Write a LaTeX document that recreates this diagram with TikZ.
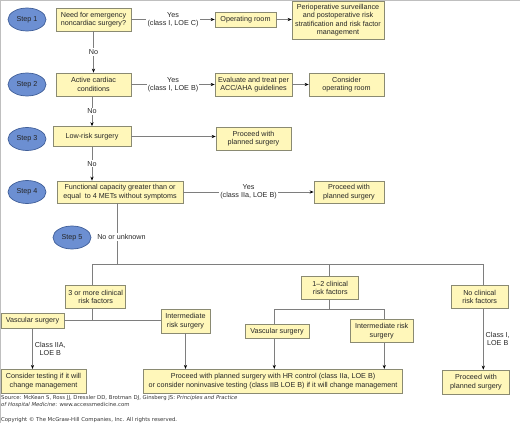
\documentclass[tikz,border=0pt]{standalone}
\usepackage{fontspec}
\setmainfont{Liberation Sans}
\newfontfamily\srcfont{DejaVu Sans}
\usetikzlibrary{shapes.geometric,arrows.meta}
\definecolor{boxfill}{HTML}{FFF7BA}
\definecolor{boxline}{HTML}{8A8A72}
\definecolor{stepfill}{HTML}{6C8FD2}
\definecolor{stepline}{HTML}{3F5E98}
\definecolor{linegray}{HTML}{7E7E7E}
\tikzset{>={Stealth[length=4pt,width=3.2pt,color=black]}}
\tikzset{
  box/.style={draw=boxline,fill=boxfill,line width=0.7pt,align=center,inner sep=1pt,text=black!85},
  stepnode/.style={ellipse,draw=stepline,fill=stepfill,line width=0.7pt,minimum width=38,minimum height=23,inner sep=0pt,text=black!85},
  lbl/.style={fill=white,align=center,inner sep=1.2pt,text=black!85},
  line/.style={draw=linegray,line width=0.8pt},
  src/.style={font=\srcfont\fontsize{5.35}{6.7}\selectfont,align=left,inner sep=0pt,text=black!80}
}

\begin{document}
\begin{tikzpicture}[x=1pt,y=-1pt,font=\fontsize{7.2}{8.4}\selectfont]
\useasboundingbox (0,0) rectangle (520,423);
\draw[draw=black!25,line width=0.6pt] (0.4,423) -- (0.4,0.4) -- (520,0.4);

% steps
\foreach \n/\x/\y in {1/27/19.5,2/27/84.5,3/27/139,4/27/192,5/72/237.5}
  \node[stepnode] (s\n) at (\x,\y) {Step \n};

% top part
\node[box,minimum width=75,minimum height=23] (q1) at (93.5,19.5) {Need for emergency\\noncardiac surgery?};
\node[box,minimum width=61,minimum height=15] (or1) at (245.5,19.5) {Operating room};
\node[box,minimum width=92,minimum height=38] (peri) at (338,20) {Perioperative surveillance\\and postoperative risk\\stratification and risk factor\\management};
\node[box,minimum width=75,minimum height=23] (q2) at (93.5,84.5) {Active cardiac\\conditions};
\node[box,minimum width=77,minimum height=23] (eval) at (253.5,84.5) {Evaluate and treat per\\ACC/AHA guidelines};
\node[box,minimum width=75,minimum height=23] (cons) at (346.5,84.5) {Consider\\operating room};
\node[box,minimum width=78,minimum height=20] (q3) at (92,136.5) {Low-risk surgery};
\node[box,minimum width=75,minimum height=23] (pro3) at (253.5,138.5) {Proceed with\\planned surgery};
\node[box,minimum width=126,minimum height=22] (q4) at (120,192) {Functional capacity greater than or\\equal\ \ to 4 METs without symptoms};
\node[box,minimum width=70,minimum height=22] (pro4) at (349,192) {Proceed with\\planned surgery};

\draw[line,->] (q1) -- node[lbl]{Yes\\(class I, LOE C)} (or1);
\draw[line,->] (or1) -- (or1 -| peri.west);
\draw[line,->] (q1) -- node[lbl]{No} (q2);
\draw[line,->] (q2) -- node[lbl]{Yes\\(class I, LOE B)} (eval);
\draw[line,->] (eval) -- (cons);
\draw[line,->] (q2.south -| q3.north) -- node[lbl]{No} (q3.north);
\draw[line,->] (q3.east) -- (q3.east -| pro3.west);
\draw[line,->] (q3.south) -- node[lbl]{No} (q3.south |- q4.north);
\draw[line,->] (q4) -- node[lbl]{Yes\\(class IIa, LOE B)} (pro4);

% risk factors
\node[box,minimum width=60,minimum height=23] (r3) at (95.7,297) {3 or more clinical\\risk factors};
\node[box,minimum width=63,minimum height=15] (vas1) at (32.5,320.8) {Vascular surgery};
\node[box,minimum width=49,minimum height=24] (int1) at (185.5,321) {Intermediate\\risk surgery};
\node[box,minimum width=85,minimum height=24] (test) at (43.5,381.3) {Consider testing if it will\\change management};
\node[box,minimum width=259,minimum height=24] (big) at (273,381.3) {Proceed with planned surgery with HR control (class IIa, LOE B)\\or consider noninvasive testing (class IIB LOE B) if it will change management};
\node[box,minimum width=57,minimum height=23] (r12) at (330.3,288) {1--2 clinical\\risk factors};
\node[box,minimum width=64,minimum height=14] (vas2) at (277,331.3) {Vascular surgery};
\node[box,minimum width=63,minimum height=23] (int2) at (381.7,331) {Intermediate risk\\surgery};
\node[box,minimum width=57,minimum height=23] (r0) at (479.7,296.7) {No clinical\\risk factors};
\node[box,minimum width=67,minimum height=24] (pro0) at (476,382) {Proceed with\\planned surgery};

\coordinate (s5c) at (117,264);
\coordinate (bL) at (92,264);
\coordinate (b12) at (329.3,264);
\coordinate (bR) at (483.3,264);
\coordinate (v3) at (92,320);
\coordinate (h12L) at (274.3,309);
\coordinate (h12R) at (384.3,309);

\draw[line] (q4.south -| s5c) -- node[lbl,pos=.56,xshift=4.5pt]{No or unknown} (s5c);
\draw[line] (r3.north -| bL) -- (bL) -- (bR) -- (bR |- r0.north);
\draw[line] (b12) -- (b12 |- r12.north);
\draw[line] (r3.south -| v3) -- (v3);
\draw[line] (vas1.east) -- (vas1.east -| int1.west);
\draw[line,->] (vas1.south) -- node[right,align=center,text=black!85,inner sep=2pt]{Class IIA,\\LOE B} (vas1.south |- test.north);
\draw[line,->] (int1.south) -- (int1.south |- big.north);
\draw[line] (r12.south -| b12) -- (b12 |- h12L);
\draw[line] (vas2.north -| h12L) -- (h12L) -- (h12R) -- (h12R |- int2.north);
\draw[line,->] (vas2.south -| h12L) -- (h12L |- big.north);
\draw[line,->] (int2.south -| h12R) -- (h12R |- big.north);
\draw[line,->] (r0.south -| bR) -- node[right,align=center,text=black!85,inner sep=2pt]{Class I,\\LOE B} (bR |- pro0.north);

% source lines
\node[src,anchor=north west] (srcnote) at (1,395.5) {Source: McKean S, Ross JJ, Dressler DD, Brotman DJ, Ginsberg JS: \textit{Principles and Practice}\\\textit{of Hospital Medicine}: www.accessmedicine.com};
\node[src,anchor=west] (copy) at (1,420) {Copyright \textcopyright{} The McGraw-Hill Companies, Inc. All rights reserved.};
\end{tikzpicture}
\end{document}
